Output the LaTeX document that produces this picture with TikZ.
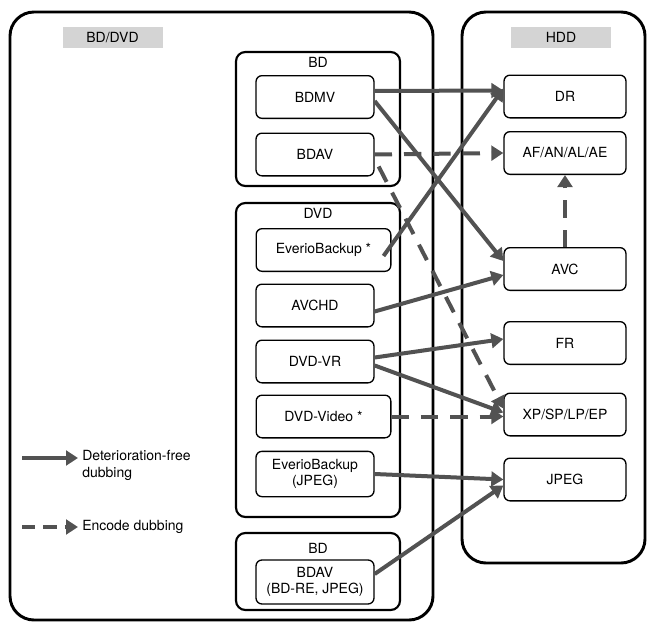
\documentclass[tikz,border=0pt]{standalone}
\usepackage{fontspec}
\setmainfont{TeX Gyre Heros}
\usetikzlibrary{arrows.meta,calc}
\tikzset{
  box/.style={draw,rounded corners=4.5pt,line width=1pt,minimum width=88.5pt,minimum height=32pt,align=center,inner sep=1pt},
  wbox/.style={box,minimum width=101pt},
  hbox/.style={box,minimum width=91.5pt},
  frame/.style={draw,rounded corners=7pt,line width=1.6pt},
  outer/.style={draw,rounded corners=18pt,line width=2.2pt},
  tag/.style={fill=black!17,minimum width=75pt,minimum height=16pt,inner sep=0pt},
  dub/.style={draw=black!68,line width=3pt,-{Triangle[length=9pt,width=11pt]}},
  enc/.style={dub,dash pattern=on 13pt off 9pt}
}
\begin{document}
\begin{tikzpicture}[x=0.75pt,y=-0.75pt,font=\fontsize{10.5}{12.5}\selectfont]
\useasboundingbox (0,0) rectangle (654,628);
% big frames
\draw[outer] (10,12) rectangle (433,620);
\draw[outer] (462,12) rectangle (645,563);
\node[tag] (tbd) at (112.5,37.5) {BD/DVD};
\node[tag] (thdd) at (561,37.5) {HDD};
% source groups
\draw[frame] (236,52) rectangle (400,186);
\node (lbd) at (318,62) {BD};
\draw[frame] (236,203) rectangle (400,517);
\node (ldvd) at (318,213) {DVD};
\draw[frame] (236,533) rectangle (400,610);
\node (lbd2) at (318,548) {BD};
% sources
\node[box] (bdmv) at (315,97) {BDMV};
\node[box] (bdav) at (315,154.5) {BDAV};
\node[wbox] (eb) at (323.5,250) {EverioBackup *};
\node[box] (avchd) at (315,305.5) {AVCHD};
\node[box] (dvdvr) at (315,361.5) {DVD-VR};
\node[wbox] (dvdv) at (323.5,416.5) {DVD-Video *};
\node[box,minimum height=34pt] (ebj) at (315,474) {EverioBackup\\(JPEG)};
\node[box,minimum height=33pt] (bdav2) at (315,582) {BDAV\\(BD-RE, JPEG)};
% HDD targets
\node[hbox] (dr) at (565,96.5) {DR};
\node[hbox] (af) at (565,153) {AF/AN/AL/AE};
\node[hbox] (avc) at (565,269) {AVC};
\node[hbox] (fr) at (565,343) {FR};
\node[hbox] (xp) at (565,414.5) {XP/SP/LP/EP};
\node[hbox] (jpeg) at (565,479.5) {JPEG};
% dubbing paths
\draw[dub] ($(bdmv.east)+(0,-6)$) -- ($(dr.west)+(0,-6)$);
\draw[dub] ($(bdmv.east)+(0,4)$) -- ($(avc.west)+(0,-8)$);
\draw[enc] (bdav.east) -- (af.west);
\draw[enc] ($(bdav.east)+(4,12)$) -- ($(xp.west)+(0,-6)$);
\draw[dub] ($(eb.east)+(-8,6)$) -- ($(dr.west)+(0,-8)$);
\draw[dub] ($(avchd.east)+(0,6)$) -- ($(avc.west)+(0,6)$);
\draw[dub] ($(dvdvr.east)+(0,-4)$) -- ($(fr.west)+(0,-4)$);
\draw[dub] ($(dvdvr.east)+(0,4)$) -- ($(xp.west)+(0,-2)$);
\draw[enc] (dvdv.east) -- ($(xp.west)+(0,2)$);
\draw[dub] (ebj.east) -- (jpeg.west);
\draw[dub] ($(bdav2.east)+(0,-8)$) -- ($(jpeg.west)+(0,6)$);
\draw[enc] (avc.north) -- (af.south);
% legend
\coordinate (l1a) at (22,458);
\coordinate (l1b) at (78,458);
\coordinate (l2a) at (22,527);
\coordinate (l2b) at (78,527);
\draw[dub] (l1a) -- (l1b);
\draw[enc,dash pattern=on 10pt off 6pt] (l2a) -- (l2b);
\node[anchor=north west,align=left,inner sep=0pt] (t1) at (82,450) {Deterioration-free\\dubbing};
\node[anchor=west,inner sep=0pt] (t2) at (82,527) {Encode dubbing};
\end{tikzpicture}
\end{document}
